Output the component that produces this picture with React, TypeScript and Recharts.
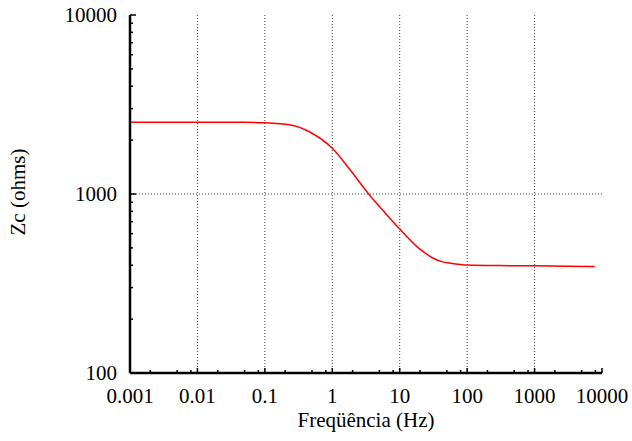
import React from "react";
import { LineChart, Line, XAxis, YAxis, ReferenceLine } from "recharts";

// frequência (Hz) e impedância característica Zc (ohms)
const freqHz = [0.001, 0.01, 0.05, 0.1, 0.24, 0.47, 1, 1.85, 3.46, 5.8, 10, 18, 24, 32, 42, 57, 75, 100, 300, 1000, 3000, 7800];
const zcOhms = [2520, 2520, 2515, 2500, 2427, 2213, 1800, 1361, 1000, 800, 637, 508, 467, 436, 419, 410, 405, 401, 398, 397, 395, 394];

const xMajorTicks = [0.001, 0.01, 0.1, 1, 10, 100, 1000, 10000];
const xMinorSteps = [2, 5, 8];
const yMajorTicks = [100, 1000, 10000];
const yMinorSteps = [2, 3, 4, 5, 6, 7, 8, 9];

const data = freqHz.map((f, i) => ({ f, zc: zcOhms[i] }));

const minorTicks = (majors: number[], steps: number[]) =>
    majors.slice(0, -1).flatMap((m) => steps.map((s) => +(m * s).toPrecision(6)));

const xTicks = [...xMajorTicks, ...minorTicks(xMajorTicks, xMinorSteps)].sort((a, b) => a - b);
const yTicks = [...yMajorTicks, ...minorTicks(yMajorTicks, yMinorSteps)].sort((a, b) => a - b);

const isMajor = (v: number) => Math.abs(Math.log10(v) - Math.round(Math.log10(v))) < 1e-6;

const FS = 21;

const BottomTick = ({ x, y, payload }: any) => {
    const major = isMajor(payload.value);
    return (
        <g>
            <line x1={x} x2={x} y1={y} y2={y - (major ? 5 : 3)} stroke="#000" strokeWidth={1.5} />
            {major && (
                <text x={x} y={y + 30} textAnchor="middle" fontFamily="serif" fontSize={FS} fill="#000">
                    {String(payload.value)}
                </text>
            )}
        </g>
    );
};

const TopTick = ({ x, y, payload }: any) => {
    const major = isMajor(payload.value);
    return <line x1={x} x2={x} y1={y} y2={y + (major ? 5 : 3)} stroke="#000" strokeWidth={1.5} />;
};

const LeftTick = ({ x, y, payload }: any) => {
    const major = isMajor(payload.value);
    return (
        <g>
            <line x1={x} x2={x + (major ? 6 : 3)} y1={y} y2={y} stroke="#000" strokeWidth={1.5} />
            {major && (
                <text x={x - 13} y={y + 7} textAnchor="end" fontFamily="serif" fontSize={FS} fill="#000">
                    {String(payload.value)}
                </text>
            )}
        </g>
    );
};

const RightTick = ({ x, y, payload }: any) => {
    const major = isMajor(payload.value);
    return <line x1={x} x2={x - (major ? 6 : 3)} y1={y} y2={y} stroke="#000" strokeWidth={1.5} />;
};

const frame = { stroke: "#000", strokeWidth: 2.5 };
const grid = { stroke: "#444", strokeDasharray: "1 2", strokeWidth: 1 };

export default function App() {
    return (
        <div style={{ position: "absolute", left: 0, top: 0, width: 632, height: 441, background: "#fff" }}>
            <LineChart width={632} height={441} data={data} margin={{ top: 15, right: 30, bottom: 0, left: 0 }}>
                <XAxis
                    dataKey="f"
                    type="number"
                    scale="log"
                    domain={[0.001, 10000]}
                    ticks={xTicks}
                    interval={0}
                    allowDataOverflow
                    height={68}
                    tickSize={0}
                    tickMargin={0}
                    tickLine={false}
                    axisLine={frame}
                    tick={<BottomTick />}
                />
                <XAxis
                    xAxisId="top"
                    orientation="top"
                    type="number"
                    scale="log"
                    domain={[0.001, 10000]}
                    ticks={xTicks}
                    interval={0}
                    allowDataOverflow
                    height={0}
                    tickSize={0}
                    tickMargin={0}
                    tickLine={false}
                    axisLine={frame}
                    tick={<TopTick />}
                />
                <YAxis
                    type="number"
                    scale="log"
                    domain={[100, 10000]}
                    ticks={yTicks}
                    interval={0}
                    allowDataOverflow
                    width={130}
                    tickSize={0}
                    tickMargin={0}
                    tickLine={false}
                    axisLine={frame}
                    tick={<LeftTick />}
                />
                <YAxis
                    yAxisId="right"
                    orientation="right"
                    type="number"
                    scale="log"
                    domain={[100, 10000]}
                    ticks={yTicks}
                    interval={0}
                    allowDataOverflow
                    width={0}
                    tickSize={0}
                    tickMargin={0}
                    tickLine={false}
                    axisLine={frame}
                    tick={<RightTick />}
                />
                {xMajorTicks.slice(1, -1).map((v) => (
                    <ReferenceLine key={`gx-${v}`} x={v} {...grid} />
                ))}
                {yMajorTicks.slice(1, -1).map((v) => (
                    <ReferenceLine key={`gy-${v}`} y={v} {...grid} />
                ))}
                <Line
                    type="monotone"
                    dataKey="zc"
                    stroke="#ff0000"
                    strokeWidth={1.5}
                    dot={false}
                    isAnimationActive={false}
                />
            </LineChart>
            {/* títulos dos eixos */}
            <svg width={632} height={441} style={{ position: "absolute", left: 0, top: 0, pointerEvents: "none" }}>
                <text x={366} y={427} textAnchor="middle" style={{ fontFamily: "Liberation Serif", fontSize: FS }}>
                    Freqüência (Hz)
                </text>
                <text
                    x={25}
                    y={192}
                    transform="rotate(-90, 25, 192)"
                    textAnchor="middle"
                    style={{ fontFamily: "Liberation Serif", fontSize: FS }}
                >
                    Zc (ohms)
                </text>
            </svg>
        </div>
    );
}
